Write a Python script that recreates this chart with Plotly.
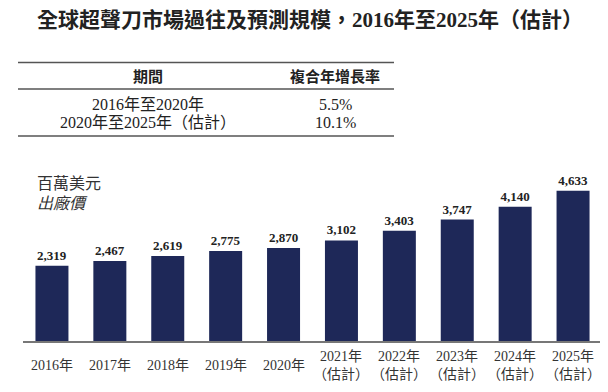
import plotly.graph_objects as go

# ---- data ----
years = ["2016年", "2017年", "2018年", "2019年", "2020年",
         "2021年", "2022年", "2023年", "2024年", "2025年"]
estimated = [False, False, False, False, False, True, True, True, True, True]
values = [2319, 2467, 2619, 2775, 2870, 3102, 3403, 3747, 4140, 4633]
periods = ["2016年至2020年", "2020年至2025年（估計）"]
cagr = ["5.5%", "10.1%"]
title_text = "全球超聲刀市場過往及預測規模，2016年至2025年（估計）"
unit_line1 = "百萬美元"
unit_line2 = "出廠價"
table_headers = ["期間", "複合年增長率"]

# ---- layout geometry (pixels, page coordinates; page body has 8px margin) ----
OFF = 8
W_PX, H_PX = 600, 384
L, R, T, B = 15, 6, 142, 51
PW = W_PX - L - R
PH = H_PX - T - B
BASE_Y = 341  # page y of baseline

def px(x):
    return (x - OFF - L) / PW

def py(y):
    return (BASE_Y - y) / PH

SERIF_CJK = "Liberation Serif, 'Noto Sans CJK TC', serif"
SANS_CJK = "'Noto Sans CJK TC', sans-serif"
BAR_COLOR = "#1e2858"

fig = go.Figure()
fig.add_trace(go.Bar(
    x=years, y=values,
    marker=dict(color=BAR_COLOR, line=dict(width=0)),
    texttemplate="%{y:,}", textposition="outside",
    textfont=dict(family=SERIF_CJK, size=13, color="#222222", weight="bold"),
    cliponaxis=False, hoverinfo="skip",
))

annotations = []
shapes = []

# x labels as annotations (vertically centred like the reference)
for yr, est in zip(years, estimated):
    label = yr + "<br>（估計）" if est else yr
    annotations.append(dict(
        x=yr, xref="x", y=py(365), yref="paper", text=label, showarrow=False,
        xanchor="center", yanchor="middle",
        font=dict(family=SERIF_CJK, size=14, color="#333333"),
    ))

# unit labels
annotations.append(dict(x=px(35), y=py(183), xref="paper", yref="paper",
                        text=unit_line1, showarrow=False, xanchor="left", yanchor="middle",
                        font=dict(family=SERIF_CJK, size=16, color="#333333")))
annotations.append(dict(x=px(35), y=py(203), xref="paper", yref="paper",
                        text="<i>" + unit_line2 + "</i>", showarrow=False, xanchor="left", yanchor="middle",
                        font=dict(family=SERIF_CJK, size=16, color="#333333")))

# table
TX0, TX1 = 18, 394
for yline in [62.5, 89, 136]:
    shapes.append(dict(type="line", xref="paper", yref="paper",
                       x0=px(TX0), x1=px(TX1), y0=py(yline), y1=py(yline),
                       line=dict(color="#555555", width=1.5)))
COL_X = [148, 335]
for cx, h in zip(COL_X, table_headers):
    annotations.append(dict(x=px(cx), y=py(75.5), xref="paper", yref="paper",
                            text="<b>" + h + "</b>", showarrow=False, xanchor="center", yanchor="middle",
                            font=dict(family=SANS_CJK, size=15, color="#222222")))
for ry, p, c in zip([104, 122], periods, cagr):
    annotations.append(dict(x=px(COL_X[0]), y=py(ry), xref="paper", yref="paper",
                            text=p, showarrow=False, xanchor="center", yanchor="middle",
                            font=dict(family=SERIF_CJK, size=16, color="#222222")))
    annotations.append(dict(x=px(COL_X[1]), y=py(ry), xref="paper", yref="paper",
                            text=c, showarrow=False, xanchor="center", yanchor="middle",
                            font=dict(family=SERIF_CJK, size=16, color="#222222")))

fig.update_layout(
    width=W_PX, height=H_PX,
    margin=dict(l=L, r=R, t=T, b=B, pad=0),
    paper_bgcolor="white", plot_bgcolor="white",
    showlegend=False,
    bargap=0.43,
    title=dict(text="<b>" + title_text + "</b>", x=(310 - OFF) / W_PX, xanchor="center",
               y=1 - (20 - OFF) / H_PX, yanchor="middle", xref="container", yref="container",
               font=dict(family=SERIF_CJK, size=21, color="#222222")),
    xaxis=dict(type="category", range=[-0.5, 9.5], showticklabels=False, ticks="",
               showgrid=False, zeroline=False, showline=True, linecolor="#777777", linewidth=1.5),
    yaxis=dict(range=[0, 5893], visible=False, showgrid=False, zeroline=False),
    annotations=annotations,
    shapes=shapes,
)

fig.write_html("out.html")
